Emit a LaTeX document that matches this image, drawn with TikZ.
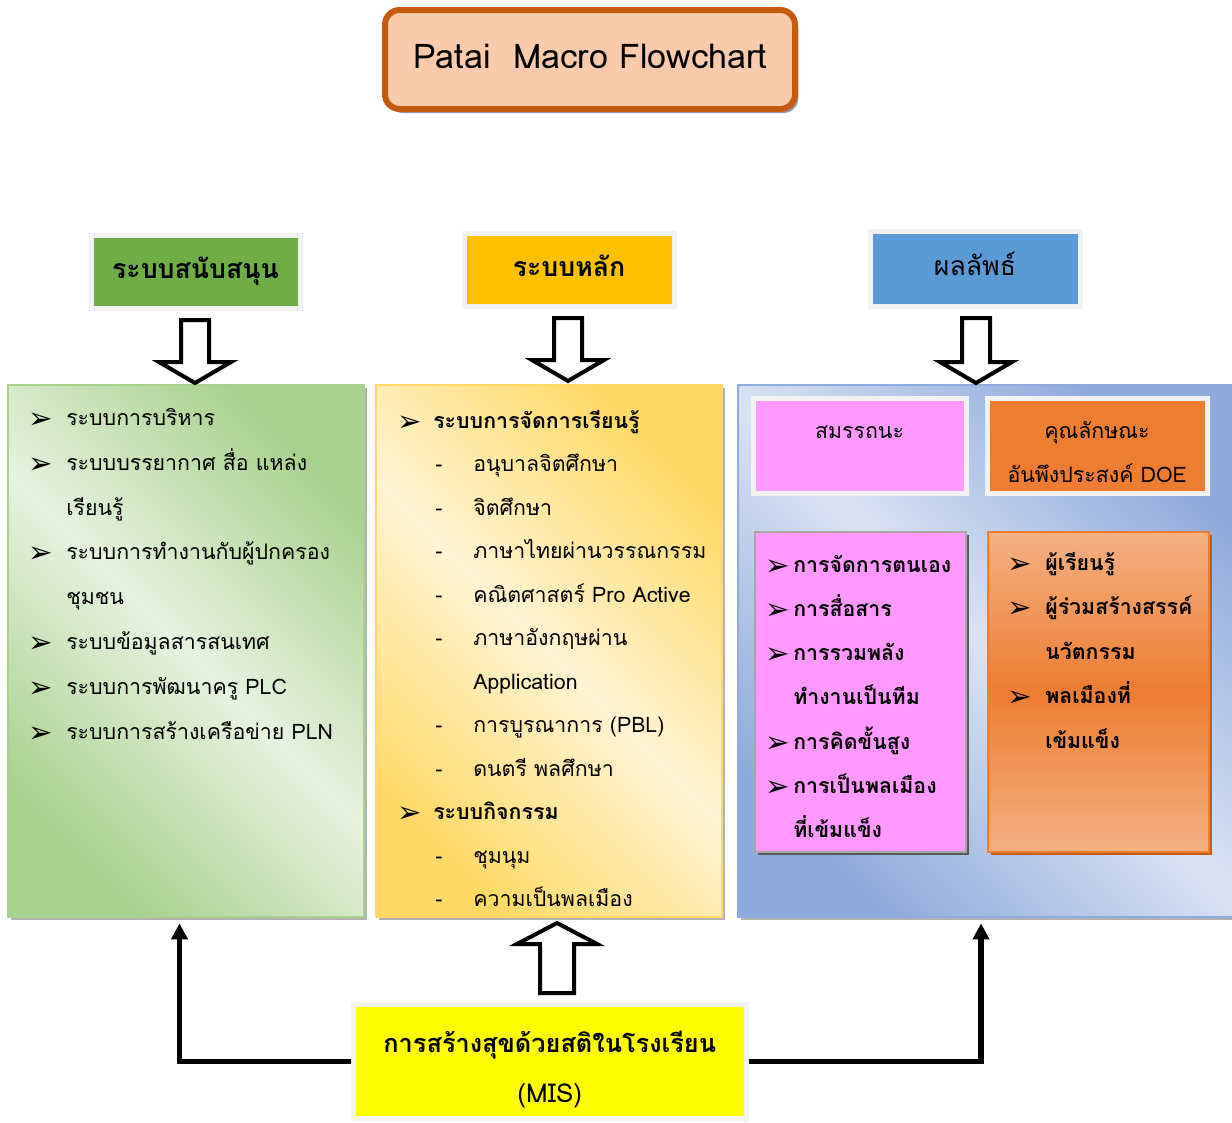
\documentclass[tikz,border=0pt]{standalone}
\usepackage{fontspec}
\setmainfont[Script=Thai]{Loma}
\newfontfamily\dingfont{DejaVu Sans}
\usetikzlibrary{arrows.meta,calc,fit,shadows}

\definecolor{titlefill}{HTML}{F8CBAD}
\definecolor{titleline}{HTML}{C55A11}
\definecolor{titleshadow}{HTML}{8FA0BC}
\definecolor{hgreen}{HTML}{70AD47}
\definecolor{hyellow}{HTML}{FFC000}
\definecolor{hblue}{HTML}{5B9BD5}
\definecolor{hpink}{HTML}{FF99FF}
\definecolor{horange}{HTML}{ED7D31}
\definecolor{lorange}{HTML}{F4B183}
\definecolor{framegray}{HTML}{F2F2F2}
\definecolor{gdark}{HTML}{A9D18E}
\definecolor{glight}{HTML}{E7F2E0}
\definecolor{ydark}{HTML}{FFD966}
\definecolor{ylight}{HTML}{FFF4D4}
\definecolor{bdark}{HTML}{8FAADC}
\definecolor{blight}{HTML}{DAE3F3}
\definecolor{misyellow}{HTML}{FFFF00}

\newcommand\fbody{\fontsize{16}{19}\selectfont}
\newcommand\fhead{\fontsize{20}{23}\selectfont\bfseries}
\newcommand\fbul{\fontsize{22}{24}\selectfont\dingfont}
\newcommand\blockarr[6]{%
  \draw[blockarrow] ({#1-#5},#2) -- ({#1+#5},#2) -- ({#1+#5},#3) -- ({#1+#6},#3)
    -- (#1,#4) -- ({#1-#6},#3) -- ({#1-#5},#3) -- cycle;}

\begin{document}
\begin{tikzpicture}[x=0.75pt,y=-0.75pt,
  txt/.style={anchor=base west, inner sep=0pt, font=\fbody},
  btxt/.style={anchor=base west, inner sep=0pt, font=\fbody\bfseries},
  ctxt/.style={anchor=base, inner sep=0pt, font=\fbody},
  bul/.style={anchor=base west, inner sep=0pt, font=\fbul, yshift=-2.5pt},
  hbox/.style={draw=framegray, line width=3.75pt, inner sep=0pt, font=\fhead,
    drop shadow={shadow xshift=2.5pt, shadow yshift=-2.5pt, fill=black!38, opacity=1}},
  bigbox/.style={inner sep=0pt, line width=1.5pt,
    drop shadow={shadow xshift=2pt, shadow yshift=-2pt, fill=black!30, opacity=1}},
  blockarrow/.style={draw=black, line width=3pt, fill=white, miter limit=10},
  conn/.style={line width=4pt, -{Triangle[width=12pt,length=12pt]}, shorten >=4pt}
]
\useasboundingbox (0,0) rectangle (1232,1122);

% title
\node[draw=titleline, fill=titlefill, line width=4.5pt, rounded corners=11pt,
  minimum width=307.5pt, minimum height=74.25pt, inner sep=0pt,
  font=\fontsize{25.5}{30}\selectfont, text height=17pt, text depth=3.5pt,
  drop shadow={shadow xshift=2.5pt, shadow yshift=-3pt, fill=titleshadow, opacity=1}]
  (title) at (590,59.5) {Patai\ \ Macro Flowchart};

% header boxes
\node[hbox, fill=hgreen, minimum width=156.75pt, minimum height=54.75pt,
  text height=13pt, text depth=3pt] (hsup) at (195.5,271.5) {ระบบสนับสนุน};
\node[hbox, fill=hyellow, minimum width=157.5pt, minimum height=54.75pt,
  text height=14.2pt, text depth=3pt] (hmain) at (569,269.5) {ระบบหลัก};
\node[hbox, fill=hblue, minimum width=157.5pt, minimum height=56.25pt,
  text height=13pt, text depth=3pt, font=\fontsize{20}{23}\selectfont] (hres) at (975,268.5) {ผลลัพธ์};

% big boxes
\node[bigbox, draw=gdark, top color=gdark, bottom color=gdark, middle color=glight,
  shading angle=-45, fit={(8,385) (364,917)}] (lbox) {};
\node[bigbox, draw=ydark, top color=ydark, bottom color=ydark, middle color=ylight,
  shading angle=-45, fit={(376,385) (722,917)}] (mbox) {};
\node[bigbox, draw=bdark, top color=bdark, bottom color=bdark, middle color=blight,
  shading angle=-45, fit={(738,385) (1236,917)}] (rbox) {};

% hollow block arrows
\blockarr{195}{320}{362}{383}{14}{36}
\blockarr{568}{318}{360}{381}{14}{36}
\blockarr{976}{318}{362}{383}{14}{36}
\blockarr{557}{993}{944}{923}{17}{40}

% left list
\node[bul] (lb1) at (28,425) {➢};
\node[txt] (l1) at (66,425) {ระบบการบริหาร};
\node[bul] (lb2) at (28,470) {➢};
\node[txt] (l2) at (66,470) {ระบบบรรยากาศ สื่อ แหล่ง};
\node[txt] (l3) at (66,515) {เรียนรู้};
\node[bul] (lb4) at (28,559) {➢};
\node[txt] (l4) at (66,559) {ระบบการทำงานกับผู้ปกครอง};
\node[txt] (l5) at (66,604) {ชุมชน};
\node[bul] (lb6) at (28,649) {➢};
\node[txt] (l6) at (66,649) {ระบบข้อมูลสารสนเทศ};
\node[bul] (lb7) at (28,694) {➢};
\node[txt] (l7) at (66,694) {ระบบการพัฒนาครู PLC};
\node[bul] (lb8) at (28,739) {➢};
\node[txt] (l8) at (66,739) {ระบบการสร้างเครือข่าย PLN};

% middle list
\node[bul] (mb1) at (397,428) {➢};
\node[btxt] (m1) at (433,428) {ระบบการจัดการเรียนรู้};
\node[txt] (md2) at (435,471.5) {-};
\node[txt] (m2) at (473,471.5) {อนุบาลจิตศึกษา};
\node[txt] (md3) at (435,515) {-};
\node[txt] (m3) at (473,515) {จิตศึกษา};
\node[txt] (md4) at (435,558.5) {-};
\node[txt] (m4) at (473,558.5) {ภาษาไทยผ่านวรรณกรรม};
\node[txt] (md5) at (435,602) {-};
\node[txt] (m5) at (473,602) {คณิตศาสตร์ Pro Active};
\node[txt] (md6) at (435,645.5) {-};
\node[txt] (m6) at (473,645.5) {ภาษาอังกฤษผ่าน};
\node[txt] (m7) at (473,689) {Application};
\node[txt] (md8) at (435,732.5) {-};
\node[txt] (m8) at (473,732.5) {การบูรณาการ (PBL)};
\node[txt] (md9) at (435,776) {-};
\node[txt] (m9) at (473,776) {ดนตรี พลศึกษา};
\node[bul] (mb10) at (397,819.5) {➢};
\node[btxt] (m10) at (433,819.5) {ระบบกิจกรรม};
\node[txt] (md11) at (435,863) {-};
\node[txt] (m11) at (473,863) {ชุมนุม};
\node[txt] (md12) at (435,906.5) {-};
\node[txt] (m12) at (473,906.5) {ความเป็นพลเมือง};

% right: sub headers
\node[hbox, fill=hpink, minimum width=159.75pt, minimum height=71.25pt] (hcomp) at (859.5,445.5) {};
\node[ctxt] (hcompt) at (859.5,438) {สมรรถนะ};
\node[hbox, fill=horange, minimum width=165pt, minimum height=71.25pt] (hdoe) at (1097,445.5) {};
\node[ctxt] (hdoet1) at (1097,438) {คุณลักษณะ};
\node[ctxt] (hdoet2) at (1097,482) {อันพึงประสงค์ DOE};

% right: list boxes
\node[inner sep=0pt, draw=black!35, line width=1.5pt, fill=hpink,
  drop shadow={shadow xshift=2.5pt, shadow yshift=-2.5pt, fill=black!65, opacity=1},
  fit={(755,532) (966,852)}] (pbox) {};
\node[inner sep=0pt, draw=horange, line width=1.5pt,
  top color=lorange, bottom color=lorange, middle color=horange,
  drop shadow={shadow xshift=2.5pt, shadow yshift=-2.5pt, fill=titleline, opacity=1},
  fit={(988,532) (1209,852)}] (obox) {};

\node[bul] (pb1) at (765,572) {➢};
\node[btxt] (p1) at (793,572) {การจัดการตนเอง};
\node[bul] (pb2) at (765,616.3) {➢};
\node[btxt] (p2) at (793,616.3) {การสื่อสาร};
\node[bul] (pb3) at (765,660.6) {➢};
\node[btxt] (p3) at (793,660.6) {การรวมพลัง};
\node[btxt] (p4) at (793,704.9) {ทำงานเป็นทีม};
\node[bul] (pb5) at (765,749.2) {➢};
\node[btxt] (p5) at (793,749.2) {การคิดขั้นสูง};
\node[bul] (pb6) at (765,793.5) {➢};
\node[btxt] (p6) at (793,793.5) {การเป็นพลเมือง};
\node[btxt] (p7) at (793,837.8) {ที่เข้มแข็ง};

\node[bul] (ob1) at (1007,570) {➢};
\node[btxt] (o1) at (1045,570) {ผู้เรียนรู้};
\node[bul] (ob2) at (1007,614.5) {➢};
\node[btxt] (o2) at (1045,614.5) {ผู้ร่วมสร้างสรรค์};
\node[btxt] (o3) at (1045,659) {นวัตกรรม};
\node[bul] (ob4) at (1007,703.5) {➢};
\node[btxt] (o4) at (1045,703.5) {พลเมืองที่};
\node[btxt] (o5) at (1045,748) {เข้มแข็ง};

% MIS box
\node[hbox, fill=misyellow, minimum width=294.4pt, minimum height=85.1pt] (mis) at (549.75,1061.25) {};
\node[ctxt, font=\fontsize{19}{22}\selectfont\bfseries] (mist1) at (549.75,1052) {การสร้างสุขด้วยสติในโรงเรียน};
\node[ctxt, font=\fontsize{19.5}{22}\selectfont] (mist2) at (549.75,1102) {(MIS)};

% connectors
\draw[conn] (mis.west) -| ($(lbox.south)+(-6.5,0)$);
\draw[conn] (mis.east) -| ($(rbox.south)+(-6,0)$);
\end{tikzpicture}
\end{document}
